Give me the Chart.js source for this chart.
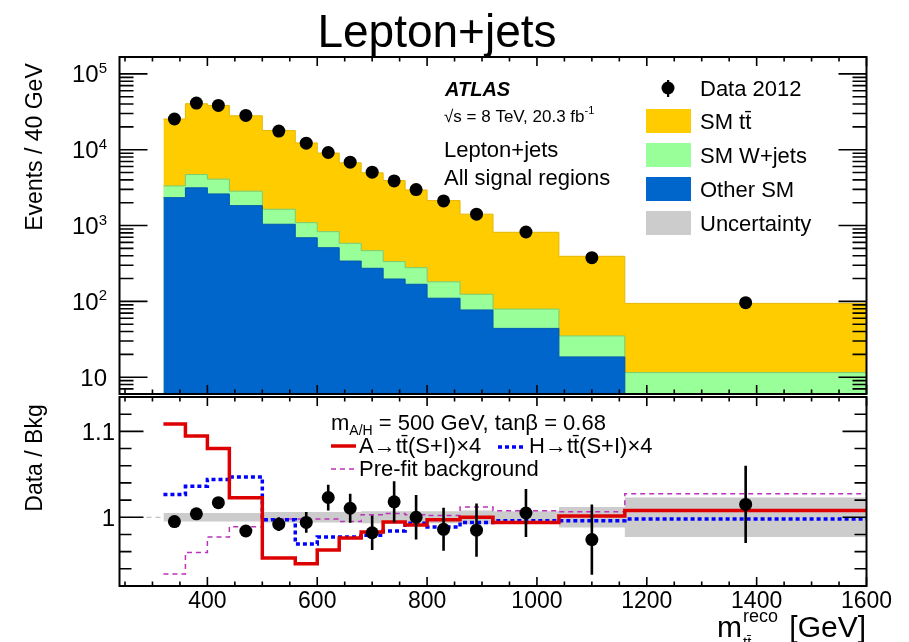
<!DOCTYPE html>
<html>
<head>
<meta charset="utf-8">
<title>Lepton+jets</title>
<script src="https://cdn.jsdelivr.net/npm/chart.js@4.4.1/dist/chart.umd.min.js"></script>
<style>
  body { margin: 0; background: #fff; }
  #wrap { position: relative; width: 909px; height: 642px; }
  #wrap canvas { position: absolute; left: 0; top: 0; }
</style>
</head>
<body>
<div id="wrap">
  <canvas id="mainPad" width="909" height="642"></canvas>
  <canvas id="ratioPad" width="909" height="642"></canvas>
</div>
<script>
const FONT = '"Liberation Sans", Arial, Helvetica, sans-serif';

// m_tt reco bins (GeV)
const binEdges = [320, 360, 400, 440, 500, 560, 600, 640, 680, 720, 760, 800, 860, 920, 1040, 1160, 1600];

// events / 40 GeV per sample
const otherSM = [2330, 3140, 2610, 1830, 1040, 690, 510, 340, 273, 197, 168, 110, 77, 44, 18.5, 4];
const wJets   = [1000, 1560, 1480, 1010, 600, 400, 320, 243, 193, 137, 110, 71, 47, 35, 16.5, 7.5];
const ttbar   = [22070, 35700, 34310, 25160, 16260, 11210, 8190, 6130, 4490, 3590, 2670, 1950, 1290, 736, 358, 82.5];
const data2012 = [25400, 41200, 38400, 28300, 17600, 12200, 9190, 6850, 5060, 3880, 2980, 2110, 1410, 822, 377, 96];

// ratio pad
const dataRatio    = [0.995, 1.004, 1.017, 0.984, 0.992, 0.994, 1.023, 1.0105, 0.982, 1.018, 1.000, 0.986, 0.985, 1.005, 0.974, 1.015];
const dataRatioErr = [0.006, 0.006, 0.006, 0.007, 0.008, 0.012, 0.015, 0.017, 0.020, 0.024, 0.026, 0.025, 0.031, 0.028, 0.041, 0.045];
const bkgUncert    = [0.005, 0.005, 0.005, 0.005, 0.006, 0.006, 0.006, 0.006, 0.007, 0.007, 0.007, 0.007, 0.008, 0.007, 0.012, 0.023];
const sigA   = [1.1085, 1.0945, 1.080, 1.0226, 0.9525, 0.946, 0.962, 0.976, 0.983, 0.9945, 0.991, 0.997, 1.000, 0.994, 1.0015, 1.008];
const sigH   = [1.0266, 1.036, 1.044, 1.047, 0.997, 0.969, 0.977, 0.977, 0.979, 0.984, 0.993, 0.9887, 0.994, 0.996, 0.996, 0.998];
const preFit = [0.934, 0.959, 0.977, 0.989, 0.998, 0.998, 0.998, 0.995, 1.003, 1.0045, 1.003, 1.002, 1.012, 1.0075, 1.0065, 1.0275];

// axis labels
const xTickLabels = [400, 600, 800, 1000, 1200, 1400, 1600];
const yDecades = [1, 2, 3, 4, 5];
const ratioTickLabels = [1, 1.1];

const binCentres = binEdges.slice(0, -1).map((e, i) => (e + binEdges[i + 1]) / 2);
const histPoints = vals => binEdges.map((e, i) => ({ x: e, y: vals[Math.min(i, vals.length - 1)] }));
const sumArr = (...arrs) => arrs[0].map((_, i) => arrs.reduce((s, a) => s + a[i], 0));

const stackGreen = sumArr(otherSM, wJets);
const stackTotal = sumArr(otherSM, wJets, ttbar);

const TT = 't' + 't\u0304';

function font(size, style) { return (style || '') + ' ' + size + 'px ' + FONT; }

// ROOT-like frame with inward ticks on all four sides
function drawFrame(chart, yTickList, yMajLen, yMinLen) {
  const ctx = chart.ctx, a = chart.chartArea, xs = chart.scales.x, ys = chart.scales.y;
  ctx.save();
  ctx.strokeStyle = '#000';
  ctx.lineWidth = 1.6;
  ctx.beginPath();
  for (let v = 250; v <= 1600; v += 50) {
    const px = xs.getPixelForValue(v);
    const len = v % 200 === 0 ? 9 : 4.5;
    ctx.moveTo(px, a.bottom); ctx.lineTo(px, a.bottom - len);
    ctx.moveTo(px, a.top); ctx.lineTo(px, a.top + len);
  }
  yTickList.forEach(t => {
    const py = ys.getPixelForValue(t.v);
    const len = t.major ? yMajLen : yMinLen;
    ctx.moveTo(a.left, py); ctx.lineTo(a.left + len, py);
    ctx.moveTo(a.right, py); ctx.lineTo(a.right - len, py);
  });
  ctx.stroke();
  ctx.lineWidth = 2;
  ctx.strokeRect(a.left, a.top, a.right - a.left, a.bottom - a.top);
  ctx.restore();
}

const mainDecor = {
  id: 'mainDecor',
  afterDatasetsDraw(chart) {
    const ys = chart.scales.y;
    const ticks = [];
    for (let d = 0; d <= 5; d++) {
      for (let m = 1; m <= 9; m++) {
        const v = m * Math.pow(10, d);
        if (v >= ys.min && v <= ys.max) ticks.push({ v, major: m === 1 });
      }
    }
    drawFrame(chart, ticks, 28, 14);
  },
  afterDraw(chart) {
    const ctx = chart.ctx, ys = chart.scales.y;
    ctx.save();
    ctx.fillStyle = '#000';

    // title
    ctx.font = font(46);
    ctx.textAlign = 'center';
    ctx.textBaseline = 'alphabetic';
    ctx.fillText('Lepton+jets', 437, 47);

    // y tick labels 10^n
    yDecades.forEach(n => {
      const py = ys.getPixelForValue(Math.pow(10, n));
      ctx.textAlign = 'right';
      if (n === 1) {
        ctx.font = font(24);
        ctx.fillText('10', 107, py + 8.5);
      } else {
        ctx.font = font(15);
        const w = ctx.measureText(String(n)).width;
        ctx.fillText(String(n), 107, py - 1);
        ctx.font = font(24);
        ctx.fillText('10', 107 - w, py + 8.5);
      }
    });

    // y axis title
    ctx.save();
    ctx.translate(36, 147);
    ctx.rotate(-Math.PI / 2);
    ctx.font = font(23);
    ctx.textAlign = 'center';
    ctx.textBaseline = 'middle';
    ctx.fillText('Events / 40 GeV', 0, 0);
    ctx.restore();

    // experiment label
    ctx.textAlign = 'left';
    ctx.font = font(20, 'italic bold');
    ctx.fillText('ATLAS', 445, 96);
    ctx.font = font(17);
    const lumi = '\u221As = 8 TeV, 20.3 fb';
    ctx.fillText(lumi, 444, 122);
    const lw = ctx.measureText(lumi).width;
    ctx.font = font(11);
    ctx.fillText('-1', 444 + lw, 114);
    ctx.font = font(22);
    ctx.fillText('Lepton+jets', 444, 157);
    ctx.fillText('All signal regions', 444, 185);

    // legend
    ctx.beginPath();
    ctx.arc(668, 88, 6.5, 0, Math.PI * 2);
    ctx.fill();
    ctx.fillRect(667, 80, 2.2, 17);
    const boxes = [
      ['#ffcc00', 'SM ' + TT, 109],
      ['#99ff99', 'SM W+jets', 143],
      ['#0066cc', 'Other SM', 177],
      ['#cccccc', 'Uncertainty', 211]
    ];
    ctx.font = font(22);
    ctx.fillText('Data 2012', 700, 96);
    boxes.forEach(b => {
      ctx.fillStyle = b[0];
      ctx.fillRect(646, b[2], 45, 24);
      ctx.fillStyle = '#000';
      ctx.fillText(b[1], 700, b[2] + 20);
    });
    ctx.restore();
  }
};

const ratioDecor = {
  id: 'ratioDecor',
  beforeDatasetsDraw(chart) {
    const ctx = chart.ctx, a = chart.chartArea, ys = chart.scales.y;
    const py = ys.getPixelForValue(1);
    ctx.save();
    ctx.strokeStyle = '#b0b0b0';
    ctx.lineWidth = 1;
    ctx.setLineDash([5, 4]);
    ctx.beginPath();
    ctx.moveTo(a.left, py); ctx.lineTo(a.right, py);
    ctx.stroke();
    ctx.restore();
  },
  afterDatasetsDraw(chart) {
    const ctx = chart.ctx, xs = chart.scales.x, ys = chart.scales.y;
    // statistical error bars on the data ratio
    ctx.save();
    ctx.strokeStyle = '#000';
    ctx.lineWidth = 2.6;
    ctx.beginPath();
    binCentres.forEach((c, i) => {
      const px = xs.getPixelForValue(c);
      ctx.moveTo(px, ys.getPixelForValue(dataRatio[i] - dataRatioErr[i]));
      ctx.lineTo(px, ys.getPixelForValue(dataRatio[i] + dataRatioErr[i]));
    });
    ctx.stroke();
    ctx.restore();

    const ticks = [];
    for (let k = 46; k <= 57; k++) ticks.push({ v: k / 50, major: k === 50 || k === 55 });
    drawFrame(chart, ticks, 24, 12);
  },
  afterDraw(chart) {
    const ctx = chart.ctx, xs = chart.scales.x, ys = chart.scales.y;
    ctx.save();
    ctx.fillStyle = '#000';
    ctx.textBaseline = 'alphabetic';

    // y tick labels
    ctx.font = font(24);
    ctx.textAlign = 'right';
    ratioTickLabels.forEach(v => ctx.fillText(String(v), 115, ys.getPixelForValue(v) + 8.5));

    // x tick labels
    ctx.font = font(23);
    ctx.textAlign = 'center';
    ctx.textBaseline = 'middle';
    xTickLabels.forEach(v => ctx.fillText(String(v), xs.getPixelForValue(v), 602));

    // x axis title: m_tt^reco [GeV]
    ctx.textBaseline = 'alphabetic';
    ctx.textAlign = 'left';
    ctx.font = font(30);
    ctx.fillText('m', 717, 637);
    const sx = 717 + ctx.measureText('m').width + 1;
    ctx.font = font(15);
    ctx.fillText(TT, sx, 647);
    ctx.font = font(18);
    ctx.fillText('reco', sx, 622);
    ctx.font = font(30);
    ctx.textAlign = 'right';
    ctx.fillText('[GeV]', 866, 637);

    // y axis title
    ctx.save();
    ctx.textAlign = 'center';
    ctx.translate(36, 458);
    ctx.rotate(-Math.PI / 2);
    ctx.font = font(23);
    ctx.textBaseline = 'middle';
    ctx.fillText('Data / Bkg', 0, 0);
    ctx.restore();

    // signal legend
    ctx.textAlign = 'left';
    ctx.font = font(22);
    ctx.fillText('m', 331, 430);
    let mx = 331 + ctx.measureText('m').width;
    ctx.font = font(14);
    ctx.fillText('A/H', mx, 435);
    mx += ctx.measureText('A/H').width;
    ctx.font = font(22);
    ctx.fillText(' = 500 GeV, tan\u03B2 = 0.68', mx, 430);

    ctx.lineWidth = 3.5;
    ctx.strokeStyle = '#dd0000';
    ctx.beginPath(); ctx.moveTo(331, 446); ctx.lineTo(356, 446); ctx.stroke();
    ctx.fillText('A\u2192' + TT + '(S+I)\u00D74', 359, 453);

    ctx.strokeStyle = '#0000ff';
    ctx.setLineDash([4, 3]);
    ctx.beginPath(); ctx.moveTo(498, 447); ctx.lineTo(524, 447); ctx.stroke();
    ctx.fillText('H\u2192' + TT + '(S+I)\u00D74', 529, 453);

    ctx.strokeStyle = '#bb33bb';
    ctx.lineWidth = 1.5;
    ctx.setLineDash([5, 4]);
    ctx.beginPath(); ctx.moveTo(331, 469); ctx.lineTo(357, 469); ctx.stroke();
    ctx.setLineDash([]);
    ctx.fillText('Pre-fit background', 359, 476);
    ctx.restore();
  }
};

const xAxis = { type: 'linear', min: 240, max: 1600, display: false };

new Chart(document.getElementById('mainPad'), {
  type: 'line',
  data: {
    datasets: [
      { type: 'scatter', data: binCentres.map((c, i) => ({ x: c, y: data2012[i] })),
        pointRadius: 6.5, pointBackgroundColor: '#000', pointBorderWidth: 0, order: 0 },
      { data: histPoints(otherSM), stepped: true, fill: 'start', backgroundColor: '#0066cc',
        borderColor: '#0058b0', borderWidth: 1, pointRadius: 0, order: 1 },
      { data: histPoints(stackGreen), stepped: true, fill: 'start', backgroundColor: '#99ff99',
        borderColor: '#77cc77', borderWidth: 1, pointRadius: 0, order: 2 },
      { data: histPoints(stackTotal), stepped: true, fill: 'start', backgroundColor: '#ffcc00',
        borderColor: '#e6b800', borderWidth: 1, pointRadius: 0, order: 3 }
    ]
  },
  options: {
    responsive: false,
    animation: false,
    layout: { padding: { left: 119.5, right: 42.5, top: 57, bottom: 248 } },
    scales: {
      x: xAxis,
      y: { type: 'logarithmic', min: 6, max: 167000, bounds: 'data', display: false }
    },
    plugins: { legend: { display: false }, tooltip: { enabled: false } }
  },
  plugins: [mainDecor]
});

new Chart(document.getElementById('ratioPad'), {
  type: 'line',
  data: {
    datasets: [
      { data: histPoints(bkgUncert.map(u => 1 - u)), stepped: true, fill: false,
        borderWidth: 0, pointRadius: 0, order: 10 },
      { data: histPoints(bkgUncert.map(u => 1 + u)), stepped: true, fill: 0,
        backgroundColor: '#cccccc', borderWidth: 0, pointRadius: 0, order: 9 },
      { data: histPoints(preFit), stepped: true, fill: false, borderColor: '#bb33bb',
        borderWidth: 1.5, borderDash: [5, 4], pointRadius: 0, order: 5 },
      { data: histPoints(sigH), stepped: true, fill: false, borderColor: '#0000ff',
        borderWidth: 3.5, borderDash: [4, 3], pointRadius: 0, order: 4 },
      { data: histPoints(sigA), stepped: true, fill: false, borderColor: '#dd0000',
        borderWidth: 3.5, pointRadius: 0, order: 3 },
      { type: 'scatter', data: binCentres.map((c, i) => ({ x: c, y: dataRatio[i] })),
        pointRadius: 6.5, pointBackgroundColor: '#000', pointBorderWidth: 0, order: 0 }
    ]
  },
  options: {
    responsive: false,
    animation: false,
    layout: { padding: { left: 119.5, right: 42.5, top: 397, bottom: 56 } },
    scales: {
      x: xAxis,
      y: { type: 'linear', min: 0.92, max: 1.14, display: false }
    },
    plugins: { legend: { display: false }, tooltip: { enabled: false } }
  },
  plugins: [ratioDecor]
});
</script>
</body>
</html>
